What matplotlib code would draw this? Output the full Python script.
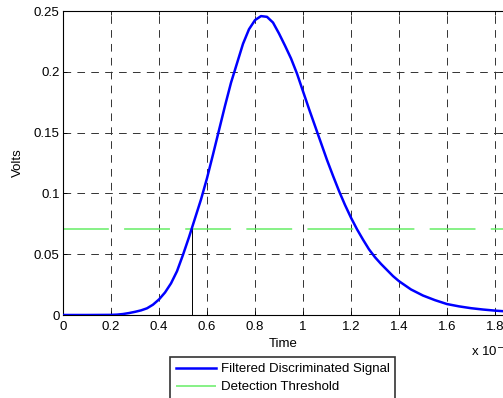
import matplotlib.pyplot as plt
from matplotlib.ticker import FormatStrFormatter

plt.rcParams['font.family'] = ['Liberation Sans', 'DejaVu Sans']
plt.rcParams['lines.scale_dashes'] = False

# time axis in units of 1e-8 s
time = [0.00, 0.10, 0.20, 0.225, 0.25, 0.275, 0.30, 0.325, 0.35, 0.375,
        0.40, 0.425, 0.45, 0.475, 0.50, 0.525, 0.55, 0.575, 0.60, 0.625,
        0.65, 0.675, 0.70, 0.725, 0.75, 0.775, 0.80, 0.825, 0.85, 0.875,
        0.90, 0.925, 0.95, 0.975, 1.00, 1.025, 1.05, 1.075, 1.10, 1.125,
        1.15, 1.175, 1.20, 1.225, 1.25, 1.275, 1.30, 1.325, 1.35, 1.375,
        1.40, 1.45, 1.50, 1.55, 1.60, 1.65, 1.70, 1.75, 1.80, 1.85]
signal = [0.0, 0.0, 0.0001, 0.0003, 0.0008, 0.0016, 0.0026, 0.0038, 0.0055, 0.0085,
          0.0128, 0.0185, 0.026, 0.036, 0.0495, 0.064, 0.0795, 0.095, 0.1125, 0.132,
          0.152, 0.172, 0.191, 0.207, 0.223, 0.235, 0.2425, 0.2458, 0.2452, 0.2405,
          0.2315, 0.2215, 0.211, 0.1985, 0.184, 0.1695, 0.1555, 0.1415, 0.1275, 0.1145,
          0.102, 0.0905, 0.080, 0.0705, 0.062, 0.054, 0.0475, 0.042, 0.037, 0.032,
          0.0278, 0.021, 0.016, 0.0122, 0.009, 0.0071, 0.0056, 0.0045, 0.0036, 0.0029]
threshold = 0.0707
t_cross = 0.537

x_ticks = [0, 0.2, 0.4, 0.6, 0.8, 1.0, 1.2, 1.4, 1.6, 1.8]
y_ticks = [0, 0.05, 0.1, 0.15, 0.2, 0.25]

fs = 9.5

fig = plt.figure(figsize=(5.03, 3.98), dpi=100)
ax = fig.add_axes([63 / 503, 83 / 398, 441 / 503, 304 / 398])

ax.plot(time, signal, color='#0000ff', lw=1.8, label='Filtered Discriminated Signal', zorder=3)
ax.plot([0, 1.9], [threshold, threshold], color='#66ee66', lw=1.1,
        dashes=(33, 11), label='Detection Threshold', zorder=2)
ax.plot([t_cross, t_cross], [0, threshold], color='black', lw=0.7, zorder=2)

ax.set_xlim(0, 441 / 240)
ax.set_ylim(0, 0.25)
ax.set_xticks(x_ticks)
ax.set_yticks(y_ticks)
ax.xaxis.set_major_formatter(FormatStrFormatter('%g'))
ax.yaxis.set_major_formatter(FormatStrFormatter('%g'))
ax.tick_params(direction='in', length=3, width=0.6, labelsize=fs, top=True, right=True, pad=2.5)
ax.tick_params(axis='x', pad=4)
ax.grid(True, color='0.2', lw=0.7, dashes=(5.5, 4.5))
for sp in ax.spines.values():
    sp.set_linewidth(0.8)

ax.set_xlabel('Time', fontsize=fs, labelpad=4)
ax.set_ylabel('Volts', fontsize=fs, labelpad=7)
fig.text(471 / 503, 47 / 398, 'x 10$^{-8}$', fontsize=fs, ha='left', va='center')

leg = ax.legend(loc='upper left', bbox_to_anchor=(170 / 503, 41 / 398),
                bbox_transform=fig.transFigure, fontsize=fs, frameon=True,
                fancybox=False, handlelength=3.0, handletextpad=0.38,
                labelspacing=0.45, borderpad=0.45, borderaxespad=0)
leg.get_frame().set_edgecolor('black')
leg.get_frame().set_linewidth(1.2)

fig.savefig('out.png', dpi=100)
